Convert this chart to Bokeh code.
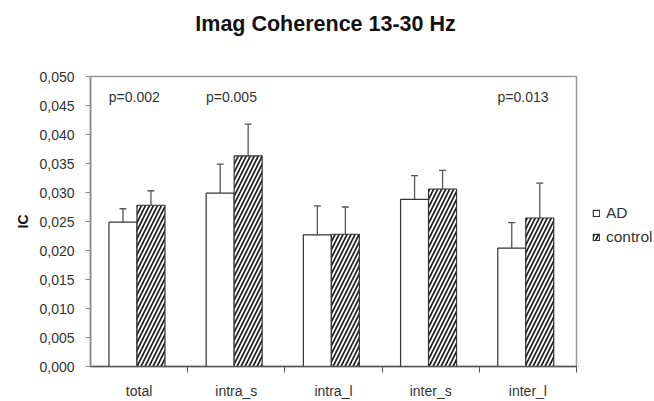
import numpy as np
from bokeh.plotting import figure
from bokeh.layouts import row, column
from bokeh.models import (ColumnDataSource, Range1d, FixedTicker, CustomJSTickFormatter,
                          Whisker, TeeHead, Legend, LegendItem, LinearAxis)
from bokeh.core.properties import value
from bokeh.embed import file_html
from bokeh.resources import INLINE

# ---- data ----
title_text = "Imag Coherence 13-30 Hz"
categories = ["total", "intra_s", "intra_l", "inter_s", "inter_l"]
ad_mean = [0.0249, 0.0299, 0.0227, 0.0288, 0.0204]
ad_err = [0.0023, 0.0050, 0.0050, 0.0041, 0.0044]
control_mean = [0.0278, 0.0363, 0.0228, 0.0306, 0.0256]
control_err = [0.0025, 0.0055, 0.0047, 0.0032, 0.0060]
p_labels = ["p=0.002", "p=0.005", "", "", "p=0.013"]
y_ticks = [0.000, 0.005, 0.010, 0.015, 0.020, 0.025, 0.030, 0.035, 0.040, 0.045, 0.050]
series_names = ["AD", "control"]

FONT = "Liberation Sans"
TXT = "#333333"

AD_STYLE = dict(fill_color="white", line_color="#333333", line_width=1.2)
CT_STYLE = dict(fill_color="white", line_color="#333333", line_width=1.2, hatch_pattern="/",
                hatch_color="#222222", hatch_weight=1.7, hatch_scale=8)

centers = np.arange(len(categories)) + 0.5
AD_OFF, CTRL_OFF, BAR_W = -0.166, 0.122, 0.288
P_Y = 0.0464

ad_src = ColumnDataSource(dict(x=centers + AD_OFF, top=ad_mean,
                               upper=np.array(ad_mean) + np.array(ad_err)))
ct_src = ColumnDataSource(dict(x=centers + CTRL_OFF, top=control_mean,
                               upper=np.array(control_mean) + np.array(control_err)))
p_src = ColumnDataSource(dict(x=centers - 0.05, y=[P_Y] * len(categories), t=p_labels))

# ---- title strip ----
tf = figure(width=654, height=50, x_range=Range1d(0, 1), y_range=Range1d(0, 1),
            output_backend="svg", toolbar_location=None,
            min_border_left=0, min_border_right=0, min_border_top=0, min_border_bottom=0)
tf.axis.visible = False
tf.grid.visible = False
tf.outline_line_color = None
tf.text(x=[0.497], y=[0.54], text=[title_text], text_align="center", text_baseline="middle",
        text_font=value(FONT), text_font_size="21.5px", text_font_style="bold",
        text_color="#111111")

# ---- main chart ----
p = figure(width=578, height=351, x_range=Range1d(0, 5), y_range=Range1d(0, 0.05),
           output_backend="svg", toolbar_location=None,
           min_border_left=90, min_border_right=2, min_border_top=26, min_border_bottom=35)

p.grid.visible = False
p.outline_line_color = "#999999"
p.outline_line_width = 1.5
p.background_fill_color = "white"
p.border_fill_color = "white"

p.vbar(x="x", top="top", width=BAR_W, source=ad_src, **AD_STYLE)
p.vbar(x="x", top="top", width=BAR_W, source=ct_src, **CT_STYLE)

for src in (ad_src, ct_src):
    w = Whisker(base="x", lower="top", upper="upper", source=src, dimension="height",
                line_color="#555555", line_width=1.3,
                upper_head=TeeHead(size=7, line_color="#555555", line_width=1.3),
                lower_head=None)
    p.add_layout(w)

p.text(x="x", y="y", text="t", source=p_src, text_align="center", text_baseline="middle",
       text_font=value(FONT), text_font_size="14px", text_color=TXT)

# y axis
p.yaxis.ticker = FixedTicker(ticks=y_ticks)
p.yaxis.formatter = CustomJSTickFormatter(code="return tick.toFixed(3).replace('.', ',');")
p.yaxis.axis_label = "IC"
p.yaxis.axis_label_text_font = FONT
p.yaxis.axis_label_text_font_size = "14px"
p.yaxis.axis_label_text_font_style = "bold"
p.yaxis.axis_label_text_color = "#111111"
p.yaxis.axis_label_standoff = 5
p.yaxis.major_label_text_font = FONT
p.yaxis.major_label_text_font_size = "14px"
p.yaxis.major_label_text_color = TXT
p.yaxis.major_label_standoff = 11
p.yaxis.major_tick_out = 5
p.yaxis.major_tick_in = 0
p.yaxis.minor_tick_line_color = None
p.yaxis.axis_line_color = "#888888"
p.yaxis.axis_line_width = 1.5
p.yaxis.major_tick_line_color = "#888888"

# x axis 1: ticks between categories, no labels
boundaries = list(range(1, len(categories) + 1))
p.xaxis.ticker = FixedTicker(ticks=boundaries)
p.xaxis.major_label_overrides = {b: "" for b in boundaries}
p.xaxis.major_label_text_font_size = "0px"
p.xaxis.major_label_standoff = 0
p.xaxis.major_tick_out = 6
p.xaxis.major_tick_in = 0
p.xaxis.minor_tick_line_color = None
p.xaxis.major_tick_line_color = "#555555"
p.xaxis.axis_line_color = "#555555"
p.xaxis.axis_line_width = 1.3

# x axis 2: category labels at centers
lab_axis = LinearAxis(ticker=FixedTicker(ticks=list(centers)),
                      major_label_overrides={float(c): lab for c, lab in zip(centers, categories)},
                      axis_line_color=None, major_tick_line_color=None, minor_tick_line_color=None,
                      major_tick_out=0, major_tick_in=0,
                      major_label_text_font=FONT, major_label_text_font_size="14px",
                      major_label_text_color=TXT, major_label_standoff=10)
p.add_layout(lab_axis, "below")

# ---- legend strip (right) ----
lg = figure(width=76, height=351, x_range=Range1d(0, 1), y_range=Range1d(0, 1),
            output_backend="svg", toolbar_location=None,
            min_border_left=0, min_border_right=0, min_border_top=0, min_border_bottom=0)
lg.axis.visible = False
lg.grid.visible = False
lg.outline_line_color = None
hidden = dict(x=[-10.0], top=[-10.0])  # off-screen sample so the legend swatches get drawn
l_ad = lg.vbar(x="x", top="top", width=0.1, source=ColumnDataSource(hidden), **AD_STYLE)
l_ct = lg.vbar(x="x", top="top", width=0.1, source=ColumnDataSource(hidden), **CT_STYLE)
legend = Legend(items=[LegendItem(label=series_names[0], renderers=[l_ad]),
                       LegendItem(label=series_names[1], renderers=[l_ct])],
                location=(14, 119), orientation="vertical",
                glyph_width=8, glyph_height=8, label_height=20, spacing=4,
                padding=0, margin=0, label_standoff=6,
                label_text_font=FONT, label_text_font_size="15.5px", label_text_color=TXT,
                border_line_color=None, background_fill_alpha=0)
lg.add_layout(legend, "center")

layout = column(tf, row(p, lg, spacing=0), spacing=0)
open("out.html", "w").write(file_html(layout, INLINE))
